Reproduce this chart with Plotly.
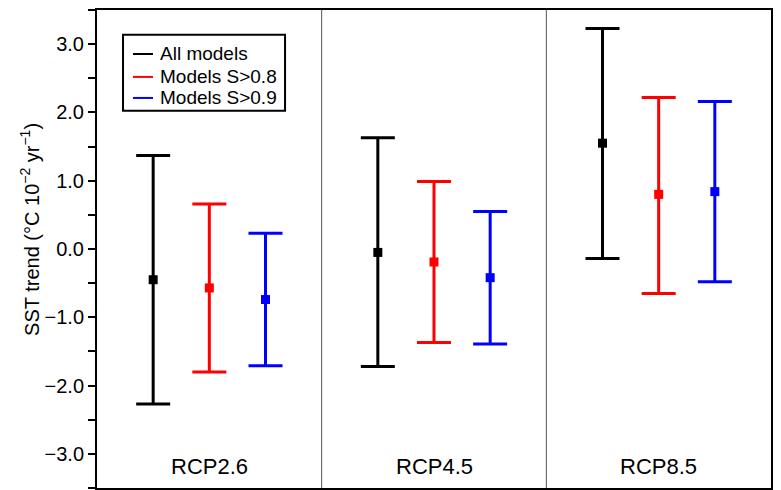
import plotly.graph_objects as go

scenarios = ["RCP2.6", "RCP4.5", "RCP8.5"]
series_names = ["All models", "Models S>0.8", "Models S>0.9"]
series_colors = ["#000000", "#ff0000", "#0000ff"]
x_pos = [[1, 5, 9], [2, 6, 10], [3, 7, 11]]

mean_vals = [
    [-0.45, -0.05, 1.55],
    [-0.57, -0.19, 0.80],
    [-0.74, -0.42, 0.84],
]
upper_vals = [
    [1.37, 1.63, 3.23],
    [0.66, 0.99, 2.22],
    [0.23, 0.55, 2.16],
]
lower_vals = [
    [-2.27, -1.72, -0.14],
    [-1.80, -1.37, -0.65],
    [-1.71, -1.39, -0.48],
]
scenario_label_x = [2, 6, 10]
ytick_vals = [-3.5, -3, -2.5, -2, -1.5, -1, -0.5, 0, 0.5, 1, 1.5, 2, 2.5, 3, 3.5]
ytick_text = ["", "\u22123.0", "", "\u22122.0", "", "\u22121.0", "", "0.0", "", "1.0", "", "2.0", "", "3.0", ""]
y_title = "SST trend (\u00b0C 10<sup>\u22122</sup> yr<sup>\u22121</sup>)"

fig = go.Figure()
for i in range(3):
    m = mean_vals[i]
    up = [u - v for u, v in zip(upper_vals[i], m)]
    lo = [v - l for v, l in zip(m, lower_vals[i])]
    fig.add_trace(go.Scatter(
        x=x_pos[i], y=m, mode="markers", name=series_names[i],
        marker=dict(symbol="square", size=9, color=series_colors[i]),
        error_y=dict(type="data", symmetric=False, array=up, arrayminus=lo,
                     color=series_colors[i], thickness=3, width=17),
        showlegend=False, hoverinfo="skip",
    ))

for xs in [4, 8]:
    fig.add_shape(type="line", x0=xs, x1=xs, y0=-3.5, y1=3.5, xref="x", yref="y",
                  line=dict(color="#555555", width=1))

for lab, xl in zip(scenarios, scenario_label_x):
    fig.add_annotation(x=xl, y=-3.18, text=lab, showarrow=False,
                       font=dict(size=22, color="black"), xref="x", yref="y")

# y-axis title as rotated annotation
fig.add_annotation(xref="paper", yref="paper", x=-0.0994, y=0.54,
                   xanchor="center", yanchor="middle", textangle=-90,
                   text=y_title, showarrow=False, font=dict(size=20, color="black"))

# hand-drawn legend box (paper coordinates)
fig.add_shape(type="rect", xref="paper", yref="paper",
              x0=0.0386, x1=0.279, y0=0.789, y1=0.948,
              line=dict(color="black", width=2), fillcolor="white", layer="above")
legend_rows = [0.908, 0.860, 0.816]
for name, col, yy in zip(series_names, series_colors, legend_rows):
    fig.add_shape(type="line", xref="paper", yref="paper",
                  x0=0.0534, x1=0.0831, y0=yy, y1=yy,
                  line=dict(color=col, width=2), layer="above")
    fig.add_annotation(xref="paper", yref="paper", x=0.0905, y=yy,
                       xanchor="left", yanchor="middle", text=name,
                       showarrow=False, font=dict(size=19, color="black"))

fig.update_layout(
    width=781, height=490,
    margin=dict(l=89, r=18, t=2, b=10),
    plot_bgcolor="white", paper_bgcolor="white",
    showlegend=False,
    font=dict(family="Liberation Sans, Arial, sans-serif", color="black"),
    xaxis=dict(range=[0, 12], side="top", showgrid=False, zeroline=False,
               tickvals=list(range(13)), ticktext=[""] * 13, automargin=False,
               ticks="outside", ticklen=10, tickwidth=2, tickcolor="black",
               showline=True, linecolor="black", linewidth=2, mirror="allticks"),
    yaxis=dict(range=[-3.5, 3.5], showgrid=False, zeroline=False,
               tickvals=ytick_vals, ticktext=ytick_text, automargin=False,
               ticks="outside", ticklen=7, tickwidth=2, tickcolor="black",
               showline=True, linecolor="black", linewidth=2, mirror="allticks",
               tickfont=dict(size=20)),
)

fig.write_html("out.html")
